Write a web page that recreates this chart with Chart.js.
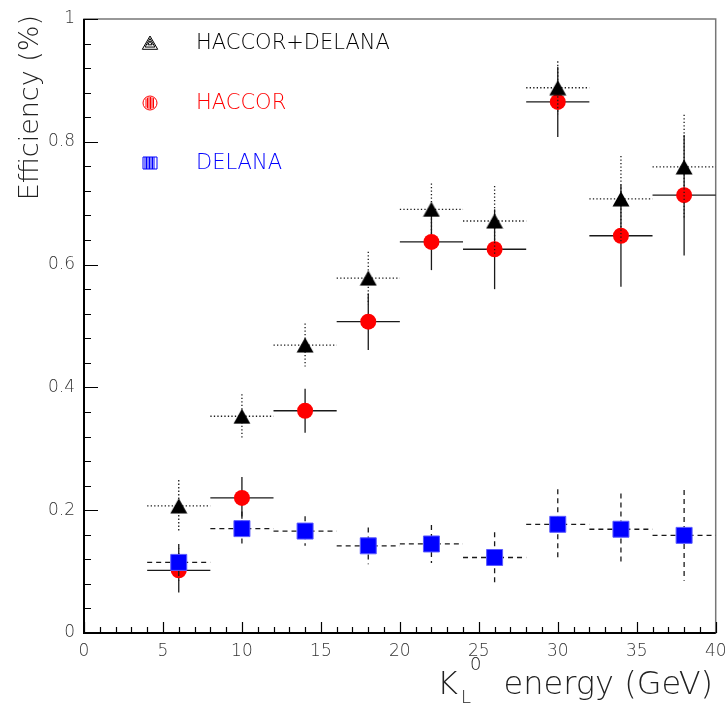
<!DOCTYPE html>
<html>
<head>
<meta charset="utf-8">
<title>KL0 efficiency</title>
<script src="https://cdn.jsdelivr.net/npm/chart.js@4.4.1/dist/chart.umd.min.js"></script>
<style>
  body { margin: 0; background: #fff; }
  canvas { display: block; }
</style>
</head>
<body>
<canvas id="chart" width="728" height="706"></canvas>
<script>
// beam energy bins (GeV), each bin is +-2 GeV wide
var energies = [6, 10, 14, 18, 22, 26, 30, 34, 38];
var energyHalfWidth = 2;

// efficiencies and their errors
var combinedEff = [0.207, 0.353, 0.469, 0.578, 0.690, 0.671, 0.888, 0.707, 0.759];
var combinedErr = [0.042, 0.036, 0.035, 0.043, 0.042, 0.057, 0.043, 0.070, 0.085];
var haccorEff   = [0.102, 0.220, 0.362, 0.507, 0.637, 0.625, 0.865, 0.647, 0.713];
var haccorErr   = [0.036, 0.034, 0.036, 0.046, 0.046, 0.065, 0.057, 0.083, 0.098];
var delanaEff   = [0.115, 0.170, 0.166, 0.142, 0.145, 0.123, 0.177, 0.169, 0.159];
var delanaErr   = [0.030, 0.028, 0.024, 0.030, 0.031, 0.041, 0.057, 0.058, 0.074];

var xTicks = [0, 5, 10, 15, 20, 25, 30, 35, 40];
var yTicks = [0, 0.2, 0.4, 0.6, 0.8, 1];

var FONT = '"DejaVu Sans", sans-serif';

function points(eff, err) {
  return energies.map((e, i) => ({ x: e, y: eff[i], xerr: energyHalfWidth, yerr: err[i] }));
}

// triangle drawn centred on the point, like ROOT marker 22
function triangleMarker() {
  var c = document.createElement('canvas');
  c.width = 18; c.height = 16;
  var g = c.getContext('2d');
  g.fillStyle = '#000';
  g.beginPath();
  g.moveTo(9, 0.5); g.lineTo(17.5, 15.5); g.lineTo(0.5, 15.5);
  g.closePath(); g.fill();
  return c;
}

// error bars are drawn right before each dataset's markers
var errorBars = {
  id: 'errorBars',
  beforeDatasetDraw(chart, args) {
    var ds = chart.data.datasets[args.index];
    var xs = chart.scales.x, ys = chart.scales.y;
    var ctx = chart.ctx;
    ctx.save();
    ctx.strokeStyle = '#1a1a1a';
    ctx.lineWidth = 1.3;
    ctx.setLineDash(ds.errDash);
    ds.data.forEach(p => {
      var px = xs.getPixelForValue(p.x), py = ys.getPixelForValue(p.y);
      ctx.beginPath();
      ctx.moveTo(xs.getPixelForValue(p.x - p.xerr), py);
      ctx.lineTo(xs.getPixelForValue(p.x + p.xerr), py);
      ctx.stroke();
      ctx.beginPath();
      ctx.moveTo(px, ys.getPixelForValue(p.y + p.yerr));
      ctx.lineTo(px, ys.getPixelForValue(p.y - p.yerr));
      ctx.stroke();
    });
    ctx.restore();
  }
};

// ROOT style frame with inward ticks, axis titles and the legend box
var decorations = {
  id: 'decorations',
  beforeDatasetsDraw(chart) {
    var ctx = chart.ctx, a = chart.chartArea;
    var xs = chart.scales.x, ys = chart.scales.y;
    ctx.save();
    ctx.strokeStyle = '#777';
    ctx.lineWidth = 1.5;
    ctx.strokeRect(a.left, a.top, a.right - a.left, a.bottom - a.top);
    ctx.strokeStyle = '#000';
    ctx.lineWidth = 2;
    ctx.beginPath();
    ctx.moveTo(a.left, a.top); ctx.lineTo(a.left, a.bottom); ctx.lineTo(a.right, a.bottom);
    ctx.stroke();
    ctx.lineWidth = 1.2;
    ctx.beginPath();
    for (var v = 0; v <= 40; v += 1) {
      var px = Math.round(xs.getPixelForValue(v)) + 0.5;
      var len = v % 5 === 0 ? 11 : 6;
      ctx.moveTo(px, a.bottom); ctx.lineTo(px, a.bottom - len);
    }
    for (var k = 0; k <= 25; k++) {
      var py = Math.round(ys.getPixelForValue(k * 0.04)) + 0.5;
      var l2 = k % 5 === 0 ? 14 : 7;
      ctx.moveTo(a.left, py); ctx.lineTo(a.left + l2, py);
    }
    ctx.stroke();
    ctx.restore();
  },
  afterDraw(chart) {
    var ctx = chart.ctx;
    ctx.save();
    ctx.fillStyle = '#222';
    ctx.textBaseline = 'alphabetic';
    // x title: K_L^0 energy (GeV)
    var big = '300 32px ' + FONT, small = '300 18px ' + FONT;
    var base = 694;
    ctx.font = big;
    ctx.fillText('K', 437, base);
    ctx.textAlign = 'right';
    ctx.fillText('energy (GeV)', 713, base);
    ctx.textAlign = 'left';
    ctx.font = small;
    ctx.fillText('L', 461, base + 9);
    ctx.fillText('0', 470, base - 24);
    // y title
    ctx.translate(38, 15);
    ctx.rotate(-Math.PI / 2);
    ctx.textAlign = 'right';
    ctx.font = '300 27px ' + FONT;
    ctx.fillText('Efficiency (%)', 0, 0);
    ctx.restore();

    // legend
    ctx.save();
    var rows = [43, 103, 163];
    chart.data.datasets.forEach((ds, i) => {
      var cy = rows[i], cx = 150;
      ctx.strokeStyle = ds.backgroundColor;
      ctx.lineWidth = 1;
      ctx.beginPath();
      if (ds.legendSymbol === 'triangle') {
        [7, 4.5, 2].forEach(s => {
          ctx.moveTo(cx, cy - s); ctx.lineTo(cx + s * 1.1, cy + s * 0.9); ctx.lineTo(cx - s * 1.1, cy + s * 0.9); ctx.closePath();
        });
      } else if (ds.legendSymbol === 'circle') {
        ctx.arc(cx, cy, 7, 0, Math.PI * 2);
        for (var h = -4; h <= 4; h += 1.5) {
          var hh = Math.sqrt(36 - h * h);
          ctx.moveTo(cx + h, cy - hh); ctx.lineTo(cx + h, cy + hh);
        }
      } else {
        ctx.rect(cx - 7, cy - 6, 14, 12);
        for (var q = -5; q <= 5; q += 1.5) {
          ctx.moveTo(cx + q, cy - 6); ctx.lineTo(cx + q, cy + 6);
        }
      }
      ctx.stroke();
      ctx.fillStyle = ds.backgroundColor;
      ctx.font = '300 21px ' + FONT;
      ctx.textBaseline = 'middle';
      ctx.fillText(ds.label, 196, cy + 1);
    });
    ctx.restore();
  }
};

var ctx = document.getElementById('chart');
new Chart(ctx, {
  type: 'scatter',
  data: {
    datasets: [
      {
        label: 'HACCOR+DELANA',
        data: points(combinedEff, combinedErr),
        pointStyle: triangleMarker(),
        backgroundColor: '#000000',
        borderColor: '#000000',
        errDash: [1.3, 2.2],
        legendSymbol: 'triangle',
        order: 1
      },
      {
        label: 'HACCOR',
        data: points(haccorEff, haccorErr),
        pointStyle: 'circle',
        pointRadius: 8,
        borderWidth: 0,
        backgroundColor: '#ff0000',
        borderColor: '#ff0000',
        errDash: [],
        legendSymbol: 'circle',
        order: 2
      },
      {
        label: 'DELANA',
        data: points(delanaEff, delanaErr),
        pointStyle: 'rect',
        pointRadius: 11.3,
        borderWidth: 1,
        backgroundColor: '#0000ff',
        borderColor: '#5a5aff',
        errDash: [5, 4],
        legendSymbol: 'rect',
        order: 0
      }
    ]
  },
  options: {
    responsive: false,
    animation: false,
    events: [],
    layout: { padding: { top: 19, right: 12, left: 0, bottom: 0 } },
    plugins: { legend: { display: false }, tooltip: { enabled: false } },
    scales: {
      x: {
        type: 'linear', min: 0, max: 40,
        afterBuildTicks: s => { s.ticks = xTicks.map(v => ({ value: v })); },
        ticks: { padding: 8, color: '#333', font: { family: FONT, size: 17, weight: '300' }, maxRotation: 0, autoSkip: false,
                 callback: v => String(v) },
        grid: { display: false, drawTicks: false },
        border: { display: false },
        afterFit: s => { s.height = 73; s.paddingLeft = 0; s.paddingRight = 0; }
      },
      y: {
        min: 0, max: 1,
        afterBuildTicks: s => { s.ticks = yTicks.map(v => ({ value: v })); },
        ticks: { padding: 9, color: '#333', font: { family: FONT, size: 17, weight: '300' },
                 callback: v => String(+v.toFixed(2)) },
        grid: { display: false, drawTicks: false },
        border: { display: false },
        afterFit: s => { s.width = 84; s.paddingTop = 0; s.paddingBottom = 0; }
      }
    }
  },
  plugins: [errorBars, decorations]
});
</script>
</body>
</html>
